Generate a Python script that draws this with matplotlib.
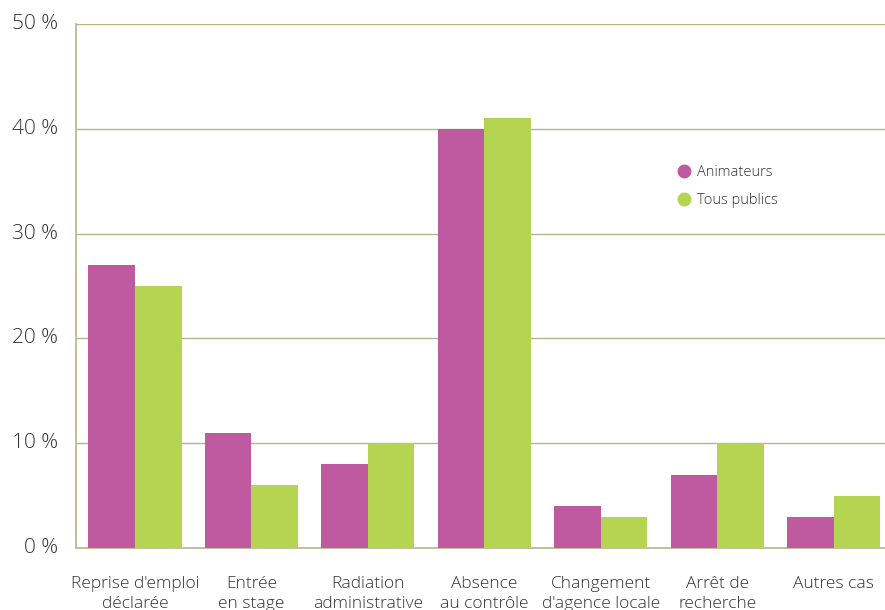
import matplotlib
matplotlib.use("Agg")
import matplotlib.pyplot as plt
import numpy as np

categories = ["Reprise d'emploi\ndéclarée", "Entrée\nen stage", "Radiation\nadministrative",
              "Absence\nau contrôle", "Changement\nd'agence locale", "Arrêt de\nrecherche", "Autres cas"]
animateurs = [27, 11, 8, 40, 4, 7, 3]
tous_publics = [25, 6, 10, 41, 3, 10, 5]
yticks = [0, 10, 20, 30, 40, 50]
ytick_labels = ["0 %", "10 %", "20 %", "30 %", "40 %", "50 %"]

plt.rcParams['font.family'] = ['Open Sans', 'DejaVu Sans']
plt.rcParams['font.weight'] = 'light'

fig = plt.figure(figsize=(8.85, 6.10), dpi=100)
ax = fig.add_axes([76/885, 1-548/610, (885-76)/885, (548-24)/610])

x = np.arange(len(categories))
w = 0.40
c1 = "#BF5AA0"
c2 = "#B4D452"
grid_c = "#B8B48A"

ax.bar(x - w/2, animateurs, width=w, color=c1, zorder=3, label="Animateurs")
ax.bar(x + w/2, tous_publics, width=w, color=c2, zorder=3, label="Tous publics")

ax.set_xlim(-0.506, 6.44)
ax.set_ylim(0, 50)
ax.set_yticks(yticks)
ax.set_yticklabels(ytick_labels, fontsize=15, color="#333333", fontweight='light')
ax.set_xticks(x)
ax.set_xticklabels(categories, fontsize=12.5, color="#333333", linespacing=1.35, fontweight='light')
ax.tick_params(axis='x', length=0, pad=20)
ax.tick_params(axis='y', length=0, pad=13)
for t in ax.get_yticklabels():
    t.set_verticalalignment('center')

ax.yaxis.grid(True, color=grid_c, linewidth=1, zorder=0)
for s in ["top", "right"]:
    ax.spines[s].set_visible(False)
ax.spines["left"].set_color(grid_c)
ax.spines["bottom"].set_color(grid_c)
ax.spines["left"].set_linewidth(1.2)
ax.spines["bottom"].set_linewidth(1.2)

leg = ax.legend(handles=[
    plt.Line2D([], [], marker='o', linestyle='', color=c1, markersize=9, label="Animateurs"),
    plt.Line2D([], [], marker='o', linestyle='', color=c2, markersize=9, label="Tous publics")],
    loc='upper left', bbox_to_anchor=((662-76)/809, (548-152)/524), frameon=False,
    prop={'size': 10.5, 'weight': 'light'}, handletextpad=0.3, labelspacing=0.9, handlelength=1.2)
for t in leg.get_texts():
    t.set_color("#333333")

fig.savefig("out.png", dpi=100)
